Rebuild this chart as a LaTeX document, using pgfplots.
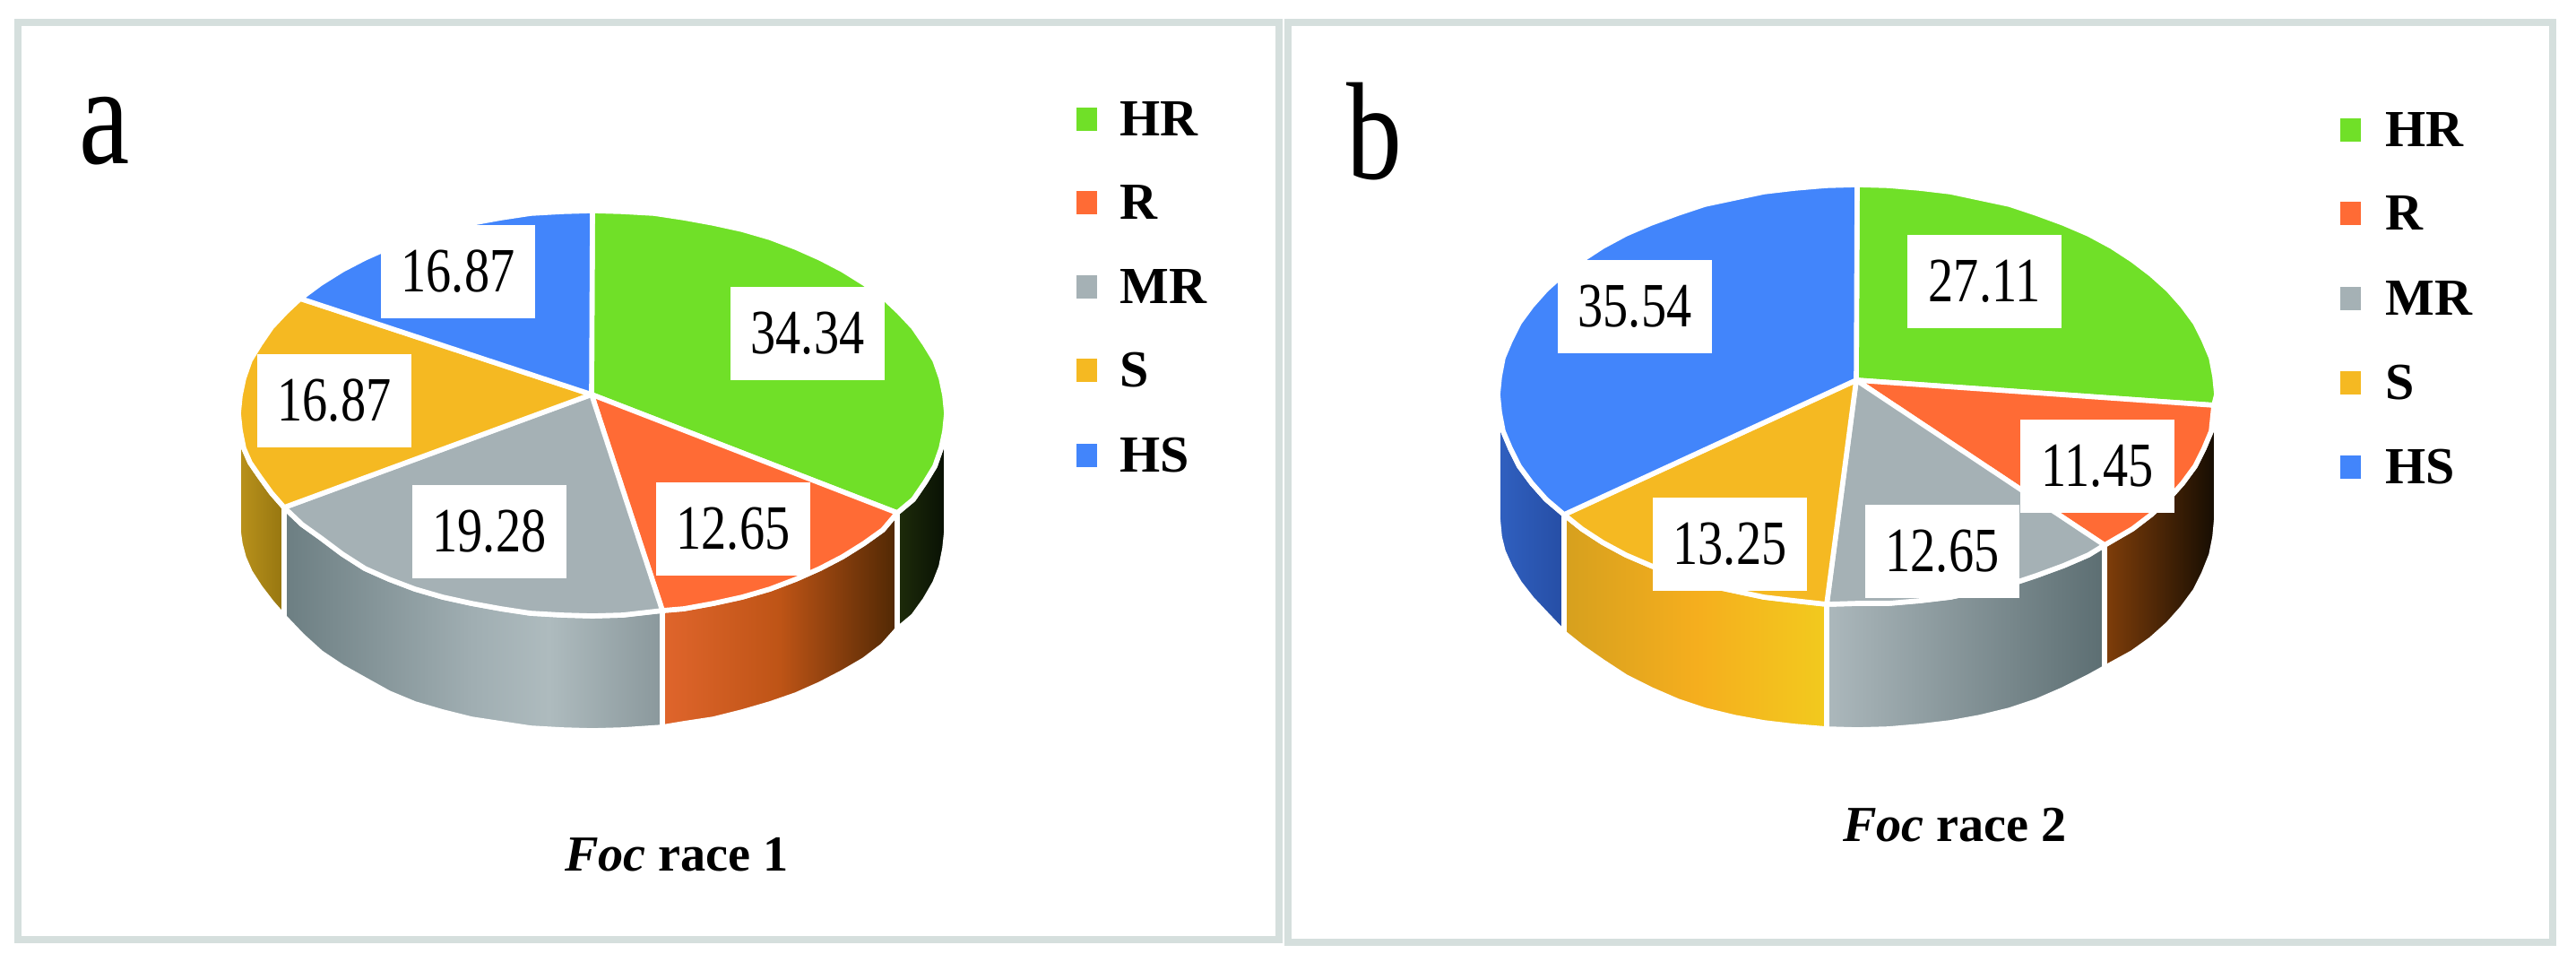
\documentclass[border=0pt]{standalone}
\usepackage{fontspec}
\setmainfont{Liberation Serif}
\newfontfamily\lab[FakeStretch=0.8]{Liberation Serif}
\newfontfamily\pan[FakeStretch=0.8]{Liberation Serif}
\usepackage{pgfplots}
\pgfplotsset{compat=1.18}
\definecolor{cHR}{RGB}{112,224,40}
\definecolor{cR}{RGB}{255,107,53}
\definecolor{cMR}{RGB}{165,177,181}
\definecolor{cS}{RGB}{245,185,34}
\definecolor{cHS}{RGB}{66,133,251}
\definecolor{frame}{RGB}{213,223,221}
\definecolor{k1}{RGB}{30,44,10}
\definecolor{k2}{RGB}{8,16,4}
\definecolor{o1}{RGB}{224,101,44}
\definecolor{o2}{RGB}{190,84,22}
\definecolor{o3}{RGB}{80,40,4}
\definecolor{g1}{RGB}{108,126,130}
\definecolor{g2}{RGB}{160,174,178}
\definecolor{g3}{RGB}{174,187,190}
\definecolor{g4}{RGB}{138,152,156}
\definecolor{y1}{RGB}{186,146,28}
\definecolor{y2}{RGB}{150,118,16}
\definecolor{p1}{RGB}{128,62,10}
\definecolor{p2}{RGB}{20,12,2}
\definecolor{m1}{RGB}{172,184,188}
\definecolor{m2}{RGB}{92,110,114}
\definecolor{s1}{RGB}{214,160,30}
\definecolor{s2}{RGB}{245,174,30}
\definecolor{s3}{RGB}{242,202,30}
\definecolor{h1}{RGB}{48,96,192}
\definecolor{h2}{RGB}{38,78,165}
\pgfdeclarehorizontalshading{aHR}{100bp}{color(0bp)=(k1);color(25bp)=(k1);color(75bp)=(k2);color(100bp)=(k2)}
\pgfdeclarehorizontalshading{aR}{100bp}{color(0bp)=(o1);color(25bp)=(o1);color(50bp)=(o2);color(75bp)=(o3);color(100bp)=(o3)}
\pgfdeclarehorizontalshading{aMR}{100bp}{color(0bp)=(g1);color(25bp)=(g1);color(50bp)=(g2);color(60bp)=(g3);color(75bp)=(g4);color(100bp)=(g4)}
\pgfdeclarehorizontalshading{aS}{100bp}{color(0bp)=(y1);color(25bp)=(y1);color(75bp)=(y2);color(100bp)=(y2)}
\pgfdeclarehorizontalshading{bR}{100bp}{color(0bp)=(p1);color(25bp)=(p1);color(75bp)=(p2);color(100bp)=(p2)}
\pgfdeclarehorizontalshading{bMR}{100bp}{color(0bp)=(m1);color(25bp)=(m1);color(75bp)=(m2);color(100bp)=(m2)}
\pgfdeclarehorizontalshading{bS}{100bp}{color(0bp)=(s1);color(25bp)=(s1);color(50bp)=(s2);color(75bp)=(s3);color(100bp)=(s3)}
\pgfdeclarehorizontalshading{bHS}{100bp}{color(0bp)=(h1);color(25bp)=(h1);color(75bp)=(h2);color(100bp)=(h2)}
\tikzset{
  slicetop/.style={draw=white,line width=1.6pt,line join=round,fill=#1},
  wall/.style={draw=white,line width=1.6pt,line join=round,shade,shading=#1},
  valbox/.style={fill=white,inner sep=0pt,minimum width=48.9pt,minimum height=29.3pt,font=\lab\fontsize{20}{22}\selectfont},
  legtext/.style={anchor=west,inner sep=0pt,font=\fontsize{16.5}{18}\selectfont\bfseries},
  captext/.style={inner sep=0pt,font=\fontsize{16}{18}\selectfont\bfseries},
}
\begin{document}
\begin{tikzpicture}
\begin{axis}[x=0.01cm,y=0.01cm,xmin=0,xmax=2874,ymin=0,ymax=1083,y dir=reverse,hide axis,scale only axis,clip=true,anchor=south west]
% background
\addplot[fill=white,draw=none] coordinates {(0,0)(2874,0)(2874,1083)(0,1083)} --cycle;
% frames
\addplot[draw=frame,line width=2.4pt] coordinates {(20,25)(1427,25)(1427,1048)(20,1048)} --cycle;
\addplot[draw=frame,line width=2.4pt] coordinates {(1437,25)(2848,25)(2848,1051)(1437,1051)} --cycle;
% ---- panel a walls
\addplot[wall=aHR] coordinates {(1056,461)(1054,481)(1050,500)(1043,520)(1032,538)(1019,557)(1001,572)(1001,702)(1019,687)(1032,669)(1043,650)(1050,632)(1054,612)(1056,593)} --cycle;
\addplot[wall=aR] coordinates {(1001,572)(985,591)(964,606)(940,621)(915,634)(888,646)(859,657)(828,666)(796,673)(763,679)(739,681)(739,811)(763,807)(796,802)(828,794)(859,785)(888,775)(915,763)(940,750)(964,736)(985,720)(1001,702)} --cycle;
\addplot[wall=aMR] coordinates {(739,681)(695,686)(661,687)(627,686)(592,684)(559,679)(526,673)(494,666)(463,657)(434,646)(407,634)(382,618)(358,600)(337,585)(317,566)(317,688)(337,709)(358,728)(382,744)(407,758)(434,773)(463,785)(494,794)(526,802)(559,807)(592,812)(627,814)(661,815)(695,814)(739,811)} --cycle;
\addplot[wall=aS] coordinates {(317,566)(303,550)(290,532)(279,516)(272,500)(268,480)(266,461)(266,593)(268,607)(272,622)(279,638)(290,655)(303,672)(317,688)} --cycle;
% ---- panel a top
\addplot[slicetop=cHR] coordinates {(660,440)(661,235)(695,236)(730,238)(763,243)(796,249)(828,256)(859,265)(888,276)(915,288)(940,301)(964,316)(985,331)(1003,348)(1019,365)(1032,384)(1043,402)(1050,422)(1054,441)(1056,461)(1054,481)(1050,500)(1043,520)(1032,538)(1019,557)(1001,572)} --cycle;
\addplot[slicetop=cR] coordinates {(660,440)(1001,572)(985,591)(964,606)(940,621)(915,634)(888,646)(859,657)(828,666)(796,673)(763,679)(739,681)} --cycle;
\addplot[slicetop=cMR] coordinates {(660,440)(739,681)(695,686)(661,687)(627,686)(592,684)(559,679)(526,673)(494,666)(463,657)(434,646)(407,634)(382,618)(358,600)(337,585)(317,566)} --cycle;
\addplot[slicetop=cS] coordinates {(660,440)(317,566)(303,550)(290,532)(279,516)(272,500)(268,480)(266,461)(268,441)(272,422)(279,402)(290,384)(303,365)(319,348)(335,333)} --cycle;
\addplot[slicetop=cHS] coordinates {(660,440)(335,333)(358,316)(382,301)(407,288)(434,276)(463,265)(494,256)(526,249)(559,243)(592,238)(627,236)(661,235)} --cycle;
% ---- panel b walls
\addplot[wall=bR] coordinates {(2473,440)(2471,460)(2467,481)(2459,500)(2449,520)(2435,539)(2419,557)(2400,574)(2379,590)(2360,601)(2348,608)(2348,745)(2379,728)(2400,713)(2419,696)(2435,678)(2449,659)(2459,639)(2467,619)(2471,599)(2473,578)} --cycle;
\addplot[wall=bMR] coordinates {(2348,608)(2330,619)(2302,631)(2272,642)(2242,652)(2209,659)(2176,666)(2142,670)(2107,673)(2072,673)(2038,674)(2038,813)(2072,814)(2107,813)(2142,810)(2176,806)(2209,800)(2242,792)(2272,782)(2302,769)(2330,755)(2348,745)} --cycle;
\addplot[wall=bS] coordinates {(2038,674)(2002,670)(1968,666)(1935,659)(1902,652)(1872,642)(1842,631)(1814,619)(1788,605)(1765,590)(1745,574)(1745,706)(1765,722)(1788,738)(1814,755)(1842,769)(1872,782)(1902,792)(1935,800)(1968,806)(2002,810)(2038,813)} --cycle;
\addplot[wall=bHS] coordinates {(1745,574)(1725,557)(1709,539)(1695,520)(1685,500)(1677,481)(1673,460)(1671,440)(1671,578)(1673,599)(1677,615)(1685,633)(1695,650)(1709,668)(1725,685)(1745,706)} --cycle;
% ---- panel b top
\addplot[slicetop=cHR] coordinates {(2071,424)(2072,206)(2107,207)(2142,210)(2176,214)(2209,221)(2242,228)(2272,238)(2302,249)(2330,261)(2356,275)(2379,290)(2400,306)(2419,323)(2435,341)(2449,360)(2459,380)(2467,399)(2471,420)(2473,440)(2470,452)} --cycle;
\addplot[slicetop=cR] coordinates {(2071,424)(2470,452)(2467,481)(2459,500)(2449,520)(2435,539)(2419,557)(2400,574)(2379,590)(2360,601)(2348,608)} --cycle;
\addplot[slicetop=cMR] coordinates {(2071,424)(2348,608)(2330,619)(2302,631)(2272,642)(2242,652)(2209,659)(2176,666)(2142,670)(2107,673)(2072,673)(2038,674)} --cycle;
\addplot[slicetop=cS] coordinates {(2071,424)(2038,674)(2002,670)(1968,666)(1935,659)(1902,652)(1872,642)(1842,631)(1814,619)(1788,605)(1765,590)(1745,574)} --cycle;
\addplot[slicetop=cHS] coordinates {(2071,424)(1745,574)(1725,557)(1709,539)(1695,520)(1685,500)(1677,481)(1673,460)(1671,440)(1673,420)(1677,399)(1685,380)(1695,360)(1709,341)(1725,323)(1744,306)(1765,290)(1788,275)(1814,261)(1842,249)(1872,238)(1902,228)(1935,221)(1968,214)(2002,210)(2037,207)(2072,206)} --cycle;
% ---- legend swatches a
\addplot[fill=cHR,draw=none] coordinates {(1201,120)(1224,120)(1224,146)(1201,146)} --cycle;
\addplot[fill=cR,draw=none] coordinates {(1201,213)(1224,213)(1224,239)(1201,239)} --cycle;
\addplot[fill=cMR,draw=none] coordinates {(1201,307)(1224,307)(1224,333)(1201,333)} --cycle;
\addplot[fill=cS,draw=none] coordinates {(1201,400)(1224,400)(1224,426)(1201,426)} --cycle;
\addplot[fill=cHS,draw=none] coordinates {(1201,495)(1224,495)(1224,521)(1201,521)} --cycle;
% ---- legend swatches b
\addplot[fill=cHR,draw=none] coordinates {(2611,132)(2634,132)(2634,158)(2611,158)} --cycle;
\addplot[fill=cR,draw=none] coordinates {(2611,225)(2634,225)(2634,251)(2611,251)} --cycle;
\addplot[fill=cMR,draw=none] coordinates {(2611,320)(2634,320)(2634,346)(2611,346)} --cycle;
\addplot[fill=cS,draw=none] coordinates {(2611,414)(2634,414)(2634,440)(2611,440)} --cycle;
\addplot[fill=cHS,draw=none] coordinates {(2611,508)(2634,508)(2634,534)(2611,534)} --cycle;
% ---- labels a
\node[valbox] at (axis cs:901,372) {34.34};
\node[valbox] at (axis cs:818,590) {12.65};
\node[valbox] at (axis cs:546,593) {19.28};
\node[valbox] at (axis cs:373,447) {16.87};
\node[valbox] at (axis cs:511,303) {16.87};
% ---- labels b
\node[valbox] at (axis cs:2214,314) {27.11};
\node[valbox] at (axis cs:2340,520) {11.45};
\node[valbox] at (axis cs:2167,615) {12.65};
\node[valbox] at (axis cs:1930,607) {13.25};
\node[valbox] at (axis cs:1824,342) {35.54};
% ---- legend text
\node[legtext] at (axis cs:1249,133) {HR};
\node[legtext] at (axis cs:1249,226) {R};
\node[legtext] at (axis cs:1249,320) {MR};
\node[legtext] at (axis cs:1249,413) {S};
\node[legtext] at (axis cs:1249,508) {HS};
\node[legtext] at (axis cs:2661,145) {HR};
\node[legtext] at (axis cs:2661,238) {R};
\node[legtext] at (axis cs:2661,333) {MR};
\node[legtext] at (axis cs:2661,427) {S};
\node[legtext] at (axis cs:2661,521) {HS};
% ---- captions
\node[captext] at (axis cs:755,953) {\textit{Foc} race 1};
\node[captext] at (axis cs:2181,920) {\textit{Foc} race 2};
% ---- panel letters
\node[inner sep=0pt,anchor=base,font=\pan\fontsize{45}{50}\selectfont] at (axis cs:117,183) {a};
\node[inner sep=0pt,anchor=base,font=\pan\fontsize{44}{50}\selectfont] at (axis cs:1533,200) {b};
\end{axis}
\end{tikzpicture}
\end{document}
